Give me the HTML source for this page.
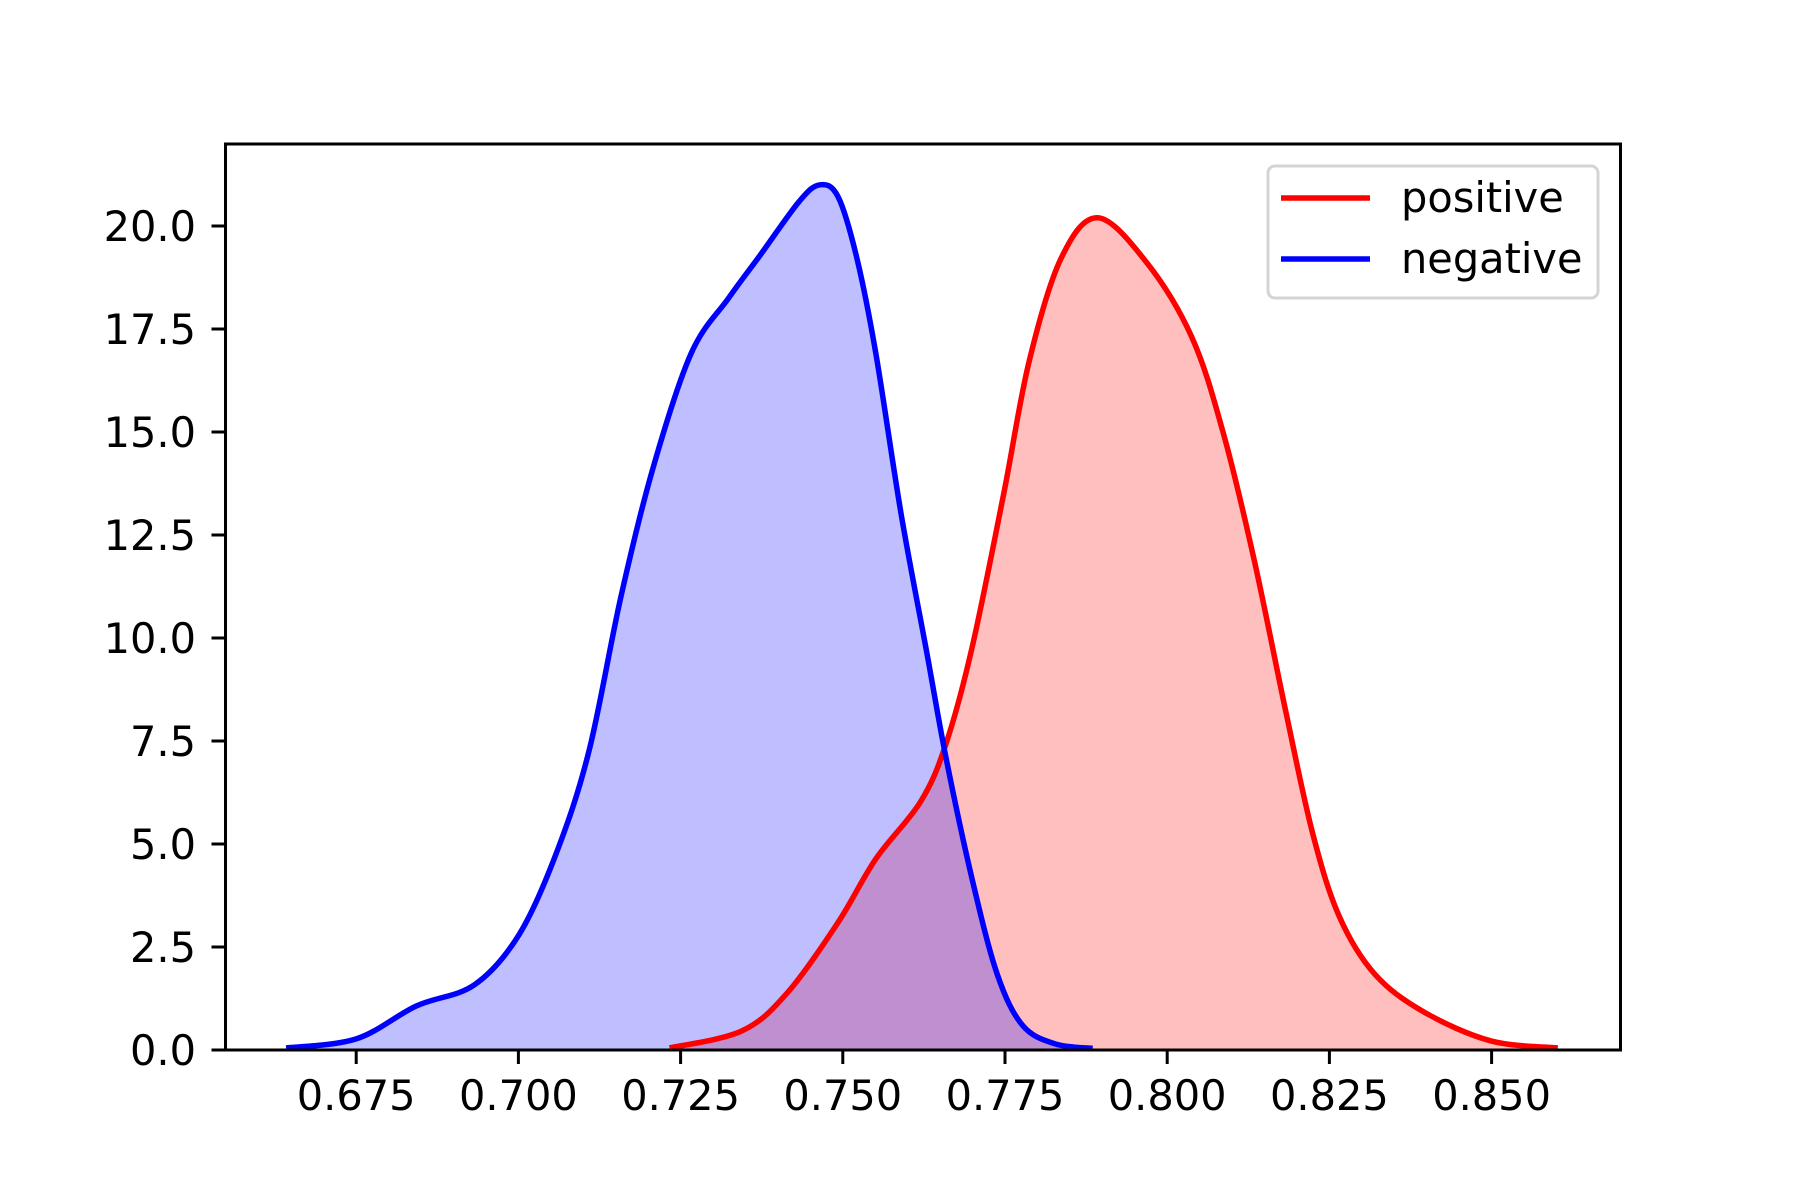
<!DOCTYPE html>
<html><head><meta charset="utf-8"><style>body{margin:0;background:#fff}svg{display:block}text{font-family:"DejaVu Sans","Liberation Sans",sans-serif;font-size:41.5px;fill:#000}</style></head>
<body>
<svg id="chart" width="1800" height="1200">
<rect width="1800" height="1200" fill="#fff"/>
<g id="fills"></g><g id="lines"></g><g id="axes"></g>
</svg>
<script>
const xTicks=[0.675,0.700,0.725,0.750,0.775,0.800,0.825,0.850];
const xTickLabels=["0.675","0.700","0.725","0.750","0.775","0.800","0.825","0.850"];
const yTicks=[0,2.5,5,7.5,10,12.5,15,17.5,20];
const yTickLabels=["0.0","2.5","5.0","7.5","10.0","12.5","15.0","17.5","20.0"];
const negX=[0.6642,0.675,0.6843,0.6932,0.7001,0.7059,0.7109,0.7158,0.7207,0.7266,0.7324,0.7373,0.7433,0.7465,0.7493,0.7522,0.7551,0.759,0.763,0.7659,0.7699,0.7738,0.7777,0.7827,0.7885];
const negY=[0.05,0.27,1.07,1.58,2.8,4.8,7.27,11.0,14.1,16.9,18.25,19.3,20.6,21.0,20.7,19.2,16.9,13.0,9.6,7.1,4.17,1.84,0.6,0.15,0.04];
const posX=[0.7233,0.7344,0.7414,0.7492,0.7551,0.762,0.7659,0.7699,0.7748,0.7787,0.7836,0.7893,0.7969,0.8038,0.8086,0.8134,0.8183,0.8224,0.8265,0.832,0.8396,0.8499,0.8602];
const posY=[0.05,0.46,1.38,3.08,4.64,6.03,7.43,9.75,13.5,16.7,19.2,20.2,19.1,17.3,15.0,11.9,8.2,5.27,3.25,1.84,0.92,0.22,0.05];
const L=225.5,R=1620.5,T=144,B=1050;
function sx(v){return 356.2+(v-0.675)*6488;}
function sy(v){return B-v*41.2;}
const NS="http://www.w3.org/2000/svg";
function mk(tag,attrs,parent){const e=document.createElementNS(NS,tag);for(const k in attrs)e.setAttribute(k,attrs[k]);parent.appendChild(e);return e;}
function smooth(xs,ys){const p=xs.map((x,i)=>[sx(x),sy(ys[i])]);let d="M"+p[0][0]+","+p[0][1];
for(let i=0;i<p.length-1;i++){const p0=p[i-1]||p[i],p1=p[i],p2=p[i+1],p3=p[i+2]||p2;
d+=" C"+(p1[0]+(p2[0]-p0[0])/6)+","+(p1[1]+(p2[1]-p0[1])/6)+" "+(p2[0]-(p3[0]-p1[0])/6)+","+(p2[1]-(p3[1]-p1[1])/6)+" "+p2[0]+","+p2[1];}return d;}
const fills=document.getElementById('fills'),lines=document.getElementById('lines'),axes=document.getElementById('axes');
function series(xs,ys,col,name){
const d=smooth(xs,ys);
const f=mk('path',{d:d+" L"+sx(xs[xs.length-1])+","+B+" L"+sx(xs[0])+","+B+" Z",fill:col,'fill-opacity':0.25},fills);


const l=mk('path',{d:d,fill:'none',stroke:col,'stroke-width':5.5,'stroke-linejoin':'round'},lines);


}
series(posX,posY,'#ff0000','positive');
series(negX,negY,'#0000ff','negative');
const frame=mk('rect',{x:L,y:T,width:R-L,height:B-T,fill:'none',stroke:'#000','stroke-width':3},axes);


xTicks.forEach((v,i)=>{const x=sx(v);
const t=mk('line',{x1:x,x2:x,y1:B,y2:B+14,stroke:'#000','stroke-width':3},axes);


const tx=mk('text',{x:x,y:1110,'text-anchor':'middle'},axes);tx.textContent=xTickLabels[i];

});
yTicks.forEach((v,i)=>{const y=sy(v);
const t=mk('line',{x1:L-14,x2:L,y1:y,y2:y,stroke:'#000','stroke-width':3},axes);


const tx=mk('text',{x:196,y:y+15,'text-anchor':'end'},axes);tx.textContent=yTickLabels[i];

});
</script>
<svg style="position:absolute;left:0;top:0" width="1800" height="1200">
<rect x="1268" y="166" width="330" height="132" rx="7" fill="#fff" fill-opacity="0.8" stroke="#d4d4d4" stroke-width="3"/>
<line x1="1281" x2="1370" y1="198" y2="198" stroke="#ff0000" stroke-width="5.5"/>
<text x="1401" y="212">positive</text>
<line x1="1281" x2="1370" y1="259" y2="259" stroke="#0000ff" stroke-width="5.5"/>
<text x="1401" y="273">negative</text>
</svg>
</body></html>
